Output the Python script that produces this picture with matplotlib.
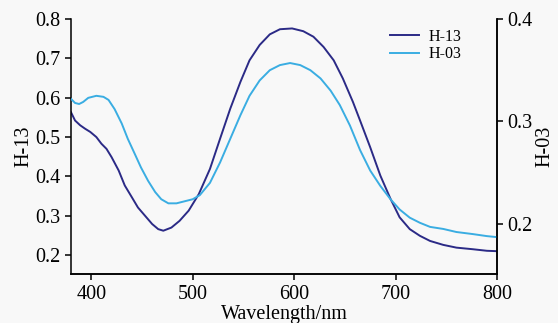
import matplotlib.pyplot as plt

plt.rcParams['font.family'] = ['Liberation Serif', 'DejaVu Serif']

# H-13 (left axis)
wl_h13 = [380, 384, 389, 394, 399, 405, 410, 415, 420, 427, 433, 440, 446, 453, 460,
          466, 471, 479, 487, 496, 506, 517, 527, 537, 547, 556, 566, 576, 586, 598,
          609, 619, 629, 639, 648, 658, 665, 675, 685, 695, 704, 714, 724, 734, 747,
          760, 776, 790, 800]
h13 = [0.563, 0.542, 0.530, 0.521, 0.513, 0.500, 0.483, 0.470, 0.449, 0.415, 0.377,
       0.347, 0.321, 0.300, 0.279, 0.266, 0.262, 0.270, 0.287, 0.313, 0.355, 0.419,
       0.496, 0.572, 0.640, 0.695, 0.734, 0.761, 0.774, 0.776, 0.769, 0.755, 0.729,
       0.695, 0.649, 0.589, 0.542, 0.474, 0.402, 0.343, 0.296, 0.266, 0.249, 0.236,
       0.226, 0.219, 0.215, 0.211, 0.210]

# H-03 (right axis)
wl_h03 = [380, 384, 388, 392, 397, 405, 412, 417, 423, 430, 436, 443, 449, 456, 463,
          469, 476, 484, 492, 500, 507, 517, 527, 537, 547, 556, 566, 576, 586, 596,
          606, 616, 626, 636, 645, 655, 665, 675, 685, 695, 704, 714, 724, 734, 747,
          760, 776, 790, 800]
h03 = [0.322, 0.318, 0.317, 0.319, 0.323, 0.325, 0.324, 0.321, 0.312, 0.298, 0.283,
       0.268, 0.255, 0.242, 0.231, 0.224, 0.220, 0.220, 0.222, 0.224, 0.228, 0.240,
       0.260, 0.283, 0.306, 0.325, 0.340, 0.350, 0.355, 0.357, 0.355, 0.350, 0.342,
       0.330, 0.316, 0.296, 0.272, 0.252, 0.237, 0.224, 0.214, 0.206, 0.201, 0.197,
       0.195, 0.192, 0.190, 0.188, 0.187]

bg = '#f8f8f8'
fig = plt.figure(figsize=(5.58, 3.23), dpi=100, facecolor=bg)
ax = fig.add_axes([71 / 558, 1 - 274 / 323, (497 - 71) / 558, (274 - 19) / 323])
ax.set_facecolor(bg)
ax2 = ax.twinx()

l1, = ax.plot(wl_h13, h13, color='#2b2a86', lw=1.4, label='H-13')
l2, = ax2.plot(wl_h03, h03, color='#3aade2', lw=1.4, label='H-03')

ax.set_xlim(380, 800)
ax.set_ylim(0.152, 0.8)
ax2.set_ylim(0.151, 0.4)
ax.set_xticks([400, 500, 600, 700, 800])
ax.set_yticks([0.2, 0.3, 0.4, 0.5, 0.6, 0.7, 0.8])
ax2.set_yticks([0.2, 0.3, 0.4])

for a in (ax, ax2):
    a.spines['top'].set_visible(False)
    for s in ('left', 'right', 'bottom'):
        a.spines[s].set_linewidth(1.1)
    a.tick_params(labelsize=14.5, length=4.2, width=1.1)
ax2.spines['left'].set_visible(False)

ax.set_xlabel('Wavelength/nm', fontsize=14.5, va='center')
ax.xaxis.set_label_coords(0.50, -0.158)
ax.set_ylabel('H-13', fontsize=14.5, va='center')
ax.yaxis.set_label_coords(-0.11, 0.5)
ax2.set_ylabel('H-03', fontsize=14.5, va='center')
ax2.yaxis.set_label_coords(1.113, 0.5)

ax.legend([l1, l2], ['H-13', 'H-03'], loc='upper left', bbox_to_anchor=(0.749, 0.962),
          frameon=False, fontsize=11.5, handlelength=1.8, handletextpad=0.6,
          labelspacing=0.1, borderpad=0, borderaxespad=0)

fig.savefig('out.png', dpi=100, facecolor=bg)
